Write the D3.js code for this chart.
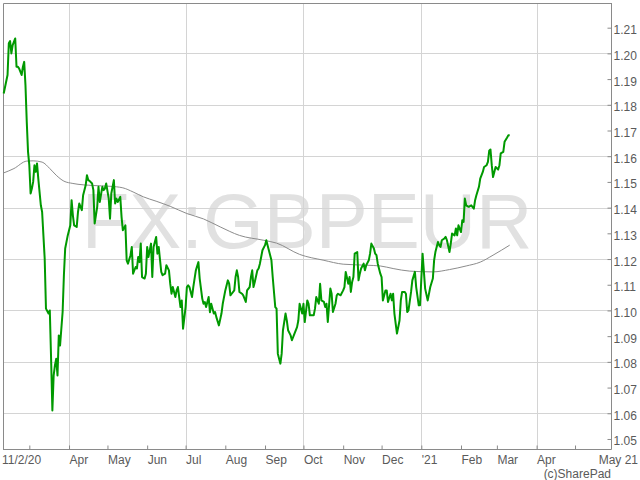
<!DOCTYPE html>
<html><head><meta charset="utf-8">
<script src="https://cdn.jsdelivr.net/npm/d3@7"></script>
<style>html,body{margin:0;padding:0;background:#fff;}svg{display:block;font-family:"Liberation Sans",Arial,sans-serif;}</style>
</head><body>
<script>
// ---- data ----
const priceDates = ["2020-02-10","2020-02-13","2020-02-14","2020-02-15","2020-02-16","2020-02-17","2020-02-19","2020-02-20","2020-02-21","2020-02-22","2020-02-24","2020-02-25","2020-02-26","2020-02-27","2020-02-28","2020-02-29","2020-03-01","2020-03-02","2020-03-03","2020-03-04","2020-03-05","2020-03-06","2020-03-07","2020-03-08","2020-03-10","2020-03-11","2020-03-13","2020-03-14","2020-03-16","2020-03-17","2020-03-18","2020-03-19","2020-03-20","2020-03-21","2020-03-22","2020-03-23","2020-03-24","2020-03-25","2020-03-27","2020-03-28","2020-03-29","2020-03-31","2020-04-02","2020-04-03","2020-04-04","2020-04-05","2020-04-07","2020-04-08","2020-04-09","2020-04-11","2020-04-12","2020-04-14","2020-04-15","2020-04-16","2020-04-17","2020-04-19","2020-04-20","2020-04-21","2020-04-23","2020-04-24","2020-04-25","2020-04-27","2020-04-28","2020-04-29","2020-04-30","2020-05-02","2020-05-03","2020-05-04","2020-05-06","2020-05-07","2020-05-08","2020-05-09","2020-05-11","2020-05-12","2020-05-13","2020-05-15","2020-05-16","2020-05-17","2020-05-19","2020-05-20","2020-05-21","2020-05-23","2020-05-24","2020-05-25","2020-05-26","2020-05-27","2020-05-28","2020-05-30","2020-05-31","2020-06-01","2020-06-02","2020-06-04","2020-06-05","2020-06-06","2020-06-08","2020-06-09","2020-06-10","2020-06-12","2020-06-13","2020-06-15","2020-06-16","2020-06-18","2020-06-19","2020-06-20","2020-06-21","2020-06-23","2020-06-24","2020-06-25","2020-06-27","2020-06-28","2020-06-29","2020-07-01","2020-07-02","2020-07-03","2020-07-04","2020-07-06","2020-07-07","2020-07-09","2020-07-11","2020-07-12","2020-07-14","2020-07-15","2020-07-16","2020-07-17","2020-07-19","2020-07-20","2020-07-21","2020-07-23","2020-07-24","2020-07-25","2020-07-27","2020-07-29","2020-07-30","2020-08-01","2020-08-03","2020-08-04","2020-08-05","2020-08-06","2020-08-08","2020-08-09","2020-08-10","2020-08-11","2020-08-12","2020-08-14","2020-08-15","2020-08-16","2020-08-17","2020-08-18","2020-08-20","2020-08-21","2020-08-22","2020-08-23","2020-08-24","2020-08-26","2020-08-27","2020-08-28","2020-08-29","2020-08-30","2020-09-01","2020-09-02","2020-09-04","2020-09-05","2020-09-06","2020-09-07","2020-09-09","2020-09-10","2020-09-11","2020-09-13","2020-09-14","2020-09-15","2020-09-17","2020-09-18","2020-09-19","2020-09-21","2020-09-22","2020-09-24","2020-09-26","2020-09-27","2020-09-28","2020-09-30","2020-10-01","2020-10-02","2020-10-04","2020-10-05","2020-10-06","2020-10-09","2020-10-10","2020-10-11","2020-10-13","2020-10-14","2020-10-15","2020-10-17","2020-10-18","2020-10-19","2020-10-20","2020-10-22","2020-10-23","2020-10-24","2020-10-26","2020-10-27","2020-10-28","2020-10-30","2020-11-01","2020-11-02","2020-11-03","2020-11-05","2020-11-06","2020-11-07","2020-11-08","2020-11-09","2020-11-10","2020-11-12","2020-11-13","2020-11-14","2020-11-15","2020-11-17","2020-11-18","2020-11-19","2020-11-21","2020-11-22","2020-11-23","2020-11-25","2020-11-26","2020-11-27","2020-11-28","2020-11-30","2020-12-01","2020-12-02","2020-12-04","2020-12-05","2020-12-06","2020-12-08","2020-12-09","2020-12-10","2020-12-11","2020-12-13","2020-12-15","2020-12-16","2020-12-17","2020-12-19","2020-12-20","2020-12-21","2020-12-22","2020-12-24","2020-12-25","2020-12-27","2020-12-28","2020-12-30","2020-12-31","2021-01-02","2021-01-04","2021-01-06","2021-01-08","2021-01-10","2021-01-11","2021-01-12","2021-01-14","2021-01-15","2021-01-16","2021-01-17","2021-01-19","2021-01-20","2021-01-21","2021-01-23","2021-01-24","2021-01-25","2021-01-27","2021-01-28","2021-01-29","2021-01-30","2021-02-01","2021-02-02","2021-02-03","2021-02-04","2021-02-05","2021-02-07","2021-02-09","2021-02-11","2021-02-12","2021-02-13","2021-02-15","2021-02-16","2021-02-18","2021-02-19","2021-02-21","2021-02-22","2021-02-23","2021-02-24","2021-02-25","2021-02-26","2021-02-27","2021-02-28","2021-03-02","2021-03-03","2021-03-04","2021-03-06","2021-03-07","2021-03-09","2021-03-10","2021-03-11"];
const priceValues = [1.1844,1.1916,1.2039,1.2048,1.2000,1.2032,1.2058,1.1948,1.1948,1.1942,1.1916,1.1948,1.1967,1.1876,1.1734,1.1617,1.1565,1.1455,1.1474,1.1500,1.1565,1.1539,1.1572,1.1513,1.1409,1.1383,1.1202,1.1007,1.0988,1.1000,1.0812,1.0611,1.0747,1.0786,1.0812,1.0747,1.0903,1.0864,1.0994,1.1137,1.1241,1.1292,1.1331,1.1429,1.1370,1.1331,1.1325,1.1383,1.1416,1.1390,1.1448,1.1487,1.1526,1.1507,1.1504,1.1494,1.1468,1.1338,1.1403,1.1481,1.1422,1.1481,1.1468,1.1474,1.1494,1.1435,1.1357,1.1455,1.1507,1.1416,1.1435,1.1422,1.1442,1.1364,1.1312,1.1331,1.1195,1.1182,1.1215,1.1247,1.1143,1.1169,1.1163,1.1208,1.1188,1.1260,1.1130,1.1124,1.1143,1.1247,1.1208,1.1260,1.1130,1.1247,1.1286,1.1221,1.1247,1.1150,1.1137,1.1143,1.1176,1.1156,1.1104,1.1065,1.1091,1.1052,1.1078,1.1091,1.1013,1.1039,1.0929,1.1013,1.1091,1.1098,1.1091,1.1052,1.1091,1.1156,1.1188,1.1124,1.1046,1.1026,1.1033,1.1013,1.1052,1.0993,1.1026,1.0988,1.0994,1.0974,1.0942,1.0988,1.1026,1.1078,1.1117,1.1104,1.1059,1.1065,1.1078,1.1130,1.1156,1.1130,1.1072,1.1065,1.1059,1.1046,1.1033,1.1078,1.1091,1.1130,1.1156,1.1091,1.1111,1.1156,1.1163,1.1182,1.1208,1.1234,1.1254,1.1273,1.1234,1.1215,1.1195,1.1130,1.1013,1.1007,1.0832,1.0793,1.0832,1.0923,1.0988,1.0961,1.0923,1.0903,1.0884,1.0910,1.0935,1.0961,1.1026,1.0988,1.1026,1.0955,1.1039,1.1026,1.0981,1.0981,1.1007,1.1052,1.1026,1.1104,1.1039,1.1033,1.1013,1.1026,1.0955,1.1085,1.1065,1.0994,1.1026,1.1059,1.1065,1.1059,1.1078,1.1091,1.1150,1.1104,1.1130,1.1072,1.1111,1.1130,1.1221,1.1227,1.1117,1.1143,1.1163,1.1182,1.1156,1.1176,1.1195,1.1221,1.1260,1.1241,1.1221,1.1215,1.1182,1.1143,1.1130,1.1039,1.1078,1.1078,1.1033,1.1065,1.1039,1.1065,1.0988,1.0910,1.0961,1.1039,1.1072,1.1072,1.1065,1.0994,1.1000,1.1072,1.1117,1.1150,1.1091,1.1020,1.1020,1.1221,1.1085,1.1039,1.1091,1.1124,1.1195,1.1227,1.1266,1.1254,1.1247,1.1273,1.1280,1.1286,1.1273,1.1227,1.1260,1.1299,1.1292,1.1319,1.1292,1.1331,1.1305,1.1351,1.1344,1.1435,1.1409,1.1403,1.1409,1.1396,1.1429,1.1448,1.1481,1.1513,1.1539,1.1558,1.1565,1.1578,1.1621,1.1626,1.1565,1.1519,1.1539,1.1558,1.1548,1.1565,1.1611,1.1617,1.1656,1.1673,1.1682,1.1682];

const avgDates = ["2020-02-10","2020-02-18","2020-02-28","2020-03-04","2020-03-11","2020-03-17","2020-03-22","2020-03-28","2020-04-04","2020-04-20","2020-05-03","2020-05-13","2020-05-21","2020-05-29","2020-06-08","2020-06-19","2020-07-02","2020-07-15","2020-07-28","2020-08-12","2020-08-31","2020-09-10","2020-09-28","2020-10-17","2020-11-01","2020-11-19","2020-11-30","2020-12-10","2020-12-23","2021-01-10","2021-01-23","2021-02-05","2021-02-16","2021-02-26","2021-03-11"];
const avgValues = [1.1535,1.1552,1.1581,1.1582,1.1577,1.1552,1.1526,1.1503,1.1494,1.1486,1.1483,1.1477,1.1461,1.1442,1.1425,1.1405,1.1377,1.1356,1.1325,1.1292,1.1273,1.1262,1.1218,1.1195,1.1180,1.1176,1.1173,1.1163,1.1153,1.1150,1.1159,1.1173,1.1188,1.1215,1.1254];

const yTickValues = [1.05,1.06,1.07,1.08,1.09,1.10,1.11,1.12,1.13,1.14,1.15,1.16,1.17,1.18,1.19,1.20,1.21];
const yGridValues = [1.06,1.08,1.10,1.12,1.14,1.16,1.18,1.20];
const xTickDates = ["2020-03-01","2020-04-01","2020-05-01","2020-06-01","2020-07-01","2020-08-01","2020-09-01","2020-10-01","2020-11-01","2020-12-01","2021-01-01","2021-02-01","2021-03-01","2021-04-01","2021-05-01"];
const xTickLabels = ["","Apr","May","Jun","Jul","Aug","Sep","Oct","Nov","Dec","'21","Feb","Mar","Apr",""];
const xGridDates = ["2020-04-01","2020-07-01","2020-10-01","2021-01-01","2021-04-01"];
const startLabel = "11/2/20";
const endLabel = "May 21";
const watermark = "FX:GBPEUR";
const credit = "(c)SharePad";

// ---- drawing ----
const W = 640, H = 480;
const pLeft = 3, pRight = 611, pTop = 3, pBottom = 449;
const parse = d3.timeParse("%Y-%m-%d");

const x = d3.scaleTime()
  .domain([new Date(2020, 1, 9, 11), new Date(2021, 4, 29, 2)])
  .range([pLeft, pRight]);
const y = d3.scaleLinear().domain([1.0461, 1.2196]).range([pBottom, pTop]);

const svg = d3.select("body").append("svg").attr("width", W).attr("height", H);

// watermark
svg.append("text")
  .attr("x", (pLeft + pRight) / 2).attr("y", 248)
  .attr("text-anchor", "middle")
  .attr("font-size", 78)
  .attr("fill", "#e1e1e1")
  .text(watermark);

// grid
svg.append("g").selectAll("line").data(yGridValues).join("line")
  .attr("x1", pLeft).attr("x2", pRight)
  .attr("y1", d => Math.round(y(d)) + 0.5).attr("y2", d => Math.round(y(d)) + 0.5)
  .attr("stroke", "#d4d4d4").attr("stroke-width", 1);
svg.append("g").selectAll("line").data(xGridDates.map(parse)).join("line")
  .attr("y1", pTop).attr("y2", pBottom)
  .attr("x1", d => Math.round(x(d)) + 0.5).attr("x2", d => Math.round(x(d)) + 0.5)
  .attr("stroke", "#d4d4d4").attr("stroke-width", 1);

// frame (left + top)
svg.append("path")
  .attr("d", `M${pLeft + 0.5},${pBottom}V${pTop + 0.5}H${pRight}`)
  .attr("fill", "none").attr("stroke", "#8a8a8a").attr("stroke-width", 1);

// moving average
const avgData = avgDates.map((d, i) => ({ date: parse(d), value: avgValues[i] }));
svg.append("path").datum(avgData)
  .attr("fill", "none").attr("stroke", "#8c8c8c").attr("stroke-width", 1)
  .attr("d", d3.line().x(d => x(d.date)).y(d => y(d.value)).curve(d3.curveMonotoneX));

// price line
const priceData = priceDates.map((d, i) => ({ date: parse(d), value: priceValues[i] }));
svg.append("path").datum(priceData)
  .attr("fill", "none").attr("stroke", "#009900").attr("stroke-width", 2)
  .attr("stroke-linejoin", "round")
  .attr("d", d3.line().x(d => x(d.date)).y(d => y(d.value)));

// right axis
const yAxis = d3.axisRight(y).tickValues(yTickValues).tickSizeInner(-4).tickSizeOuter(0)
  .tickFormat(d3.format(".2f"));
const gy = svg.append("g").attr("transform", `translate(${pRight + 0.5},0)`).call(yAxis);
gy.select(".domain").attr("stroke", "#8a8a8a").attr("d", `M0,${pTop}V${pBottom + 0.5}`);
gy.selectAll(".tick line").attr("stroke", "#8a8a8a");
gy.selectAll(".tick text").attr("x", 2).attr("dy", null)
  .attr("y", 6).attr("fill", "#5a5a5a").attr("font-size", 12)
  .attr("font-family", "'Liberation Sans', Arial, sans-serif");

// bottom axis
const xTicks = xTickDates.map(parse);
const xAxis = d3.axisBottom(x).tickValues(xTicks).tickSizeInner(-4).tickSizeOuter(0)
  .tickFormat((d, i) => xTickLabels[i]);
const gx = svg.append("g").attr("transform", `translate(0,${pBottom + 0.5})`).call(xAxis);
gx.select(".domain").attr("stroke", "#8a8a8a").attr("d", `M${pLeft},0H${pRight + 0.5}`);
gx.selectAll(".tick line").attr("stroke", "#8a8a8a");
gx.selectAll(".tick text").attr("text-anchor", "start").attr("x", 0).attr("dy", null)
  .attr("y", 14).attr("fill", "#5a5a5a").attr("font-size", 12)
  .attr("font-family", "'Liberation Sans', Arial, sans-serif");

svg.append("text").attr("x", 2).attr("y", pBottom + 14.5)
  .attr("font-size", 12).attr("fill", "#5a5a5a").text(startLabel);
svg.append("text").attr("x", 638).attr("y", pBottom + 14.5).attr("text-anchor", "end")
  .attr("font-size", 12).attr("fill", "#5a5a5a").text(endLabel);
svg.append("text").attr("x", pRight).attr("y", 477.5).attr("text-anchor", "end")
  .attr("font-size", 12).attr("fill", "#5a5a5a").text(credit);
</script>
</body></html>
